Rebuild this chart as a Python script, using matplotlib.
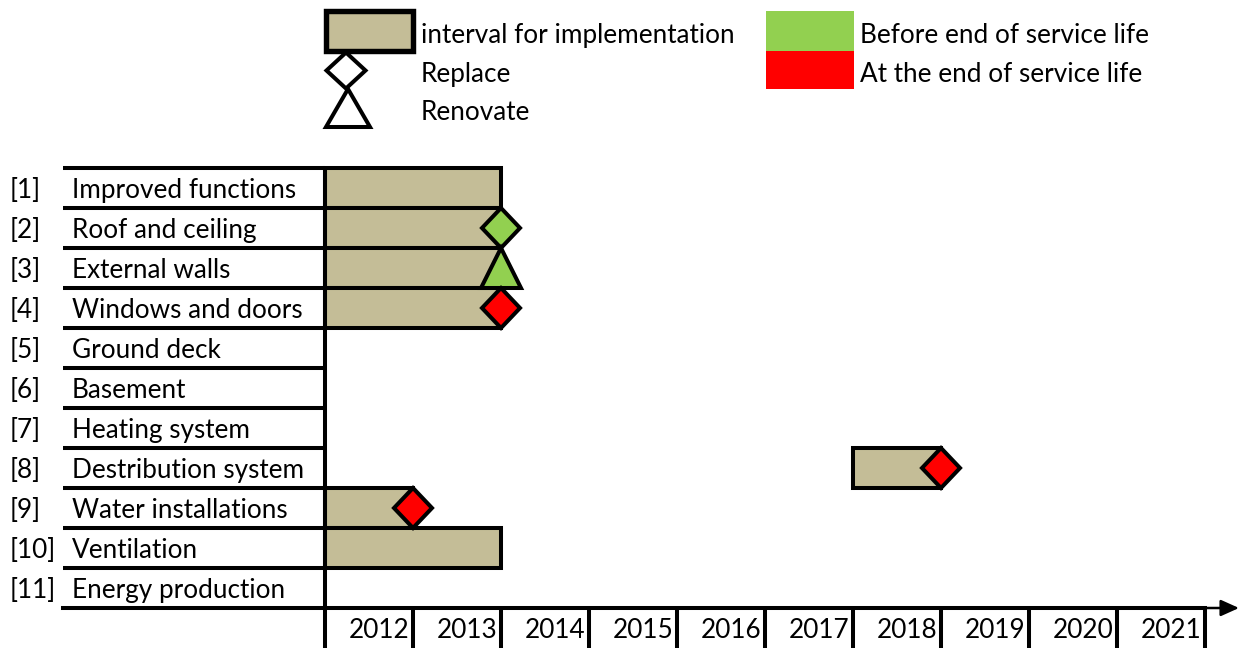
import matplotlib.pyplot as plt
from matplotlib.patches import Rectangle, Polygon

plt.rcParams['font.family'] = ['Lato', 'DejaVu Sans']

# building parts and their planned measures
items = ["Improved functions", "Roof and ceiling", "External walls",
         "Windows and doors", "Ground deck", "Basement", "Heating system",
         "Destribution system", "Water installations", "Ventilation",
         "Energy production"]
starts = [2012, 2012, 2012, 2012, None, None, None, 2018, 2012, 2012, None]
ends = [2014, 2014, 2014, 2014, None, None, None, 2019, 2013, 2014, None]
actions = [None, "replace", "renovate", "replace", None, None, None,
           "replace", "replace", None, None]
timing = [None, "before", "before", "end", None, None, None,
          "end", "end", None, None]
years = list(range(2012, 2022))

TAN = "#C4BD97"
GREEN = "#92D050"
RED = "#FF0000"
LW = 2.9
FS = 18.8

# 88 px per year, 40 px per row, first row top at 168 px
PX_X = 1 / 88
PX_Y = 1 / 40
X0 = years[0]


def px_x(p):
    return X0 + (p - 325) * PX_X


def px_y(p):
    return (p - 168) * PX_Y


def diamond(xc, yc, hw, hh, fc):
    return Polygon([(xc - hw, yc), (xc, yc - hh), (xc + hw, yc), (xc, yc + hh)],
                   closed=True, fc=fc, ec="black", lw=LW, joinstyle="miter", zorder=5)


def triangle(xc, ytop, ybot, hw, fc):
    return Polygon([(xc, ytop), (xc + hw, ybot), (xc - hw, ybot)],
                   closed=True, fc=fc, ec="black", lw=LW, joinstyle="miter", zorder=5)


fig = plt.figure(figsize=(12.41, 6.48), dpi=100)
ax = fig.add_axes([0, 0, 1, 1])
ax.set_xlim(px_x(0), px_x(1241))
ax.set_ylim(px_y(648), px_y(0))
ax.axis("off")

n = len(items)
x_left = px_x(63)
x_end = years[-1] + 1
dy = 2.5 * PX_Y  # text sits slightly low in the row

# row lines in label area
for i in range(n):
    ax.plot([x_left, X0], [i, i], color="black", lw=LW, solid_capstyle="butt", zorder=3)
# time axis line
ax.plot([x_left, x_end], [n, n], color="black", lw=LW, solid_capstyle="projecting", zorder=3)
# vertical line at start
ax.plot([X0, X0], [0, px_y(648)], color="black", lw=LW, solid_capstyle="butt", zorder=6)
# year ticks
for y in years[1:] + [x_end]:
    ax.plot([y, y], [n, px_y(648)], color="black", lw=LW, solid_capstyle="butt", zorder=3)
ax.annotate("", xy=(px_x(1239), n), xytext=(x_end + 2 * PX_X, n),
            arrowprops=dict(arrowstyle="-|>,head_length=1.0,head_width=0.45", lw=1.8,
                            color="black", mutation_scale=11, shrinkA=0, shrinkB=0))

for y in years:
    ax.text(y + 1 - 4 * PX_X, px_y(631), str(y), ha="right", va="center", fontsize=FS)

# labels
for i, name in enumerate(items):
    ax.text(px_x(10), i + 0.5 + dy, f"[{i + 1}]", ha="left", va="center", fontsize=FS)
    ax.text(px_x(72), i + 0.5 + dy, name, ha="left", va="center", fontsize=FS)

# bars and markers
for i in range(n):
    if starts[i] is None:
        continue
    ax.add_patch(Rectangle((starts[i], i), ends[i] - starts[i], 1, fc=TAN, ec="black",
                           lw=LW, joinstyle="miter", zorder=4))
    fc = GREEN if timing[i] == "before" else RED
    if actions[i] == "replace":
        ax.add_patch(diamond(ends[i], i + 0.5, 19 * PX_X, 0.5, fc))
    elif actions[i] == "renovate":
        ax.add_patch(triangle(ends[i], i, i + 1, 20 * PX_X, fc))

# legend
ax.add_patch(Rectangle((px_x(326), px_y(11)), 87 * PX_X, 40 * PX_Y, fc=TAN, ec="black",
                       lw=LW + 1, joinstyle="miter", zorder=4))
ax.add_patch(diamond(px_x(346), px_y(70.5), 19.5 * PX_X, 18 * PX_Y, "white"))
ax.add_patch(triangle(px_x(348), px_y(89), px_y(127), 22 * PX_X, "white"))
ax.text(px_x(421), px_y(33) + dy, "interval for implementation", va="center", fontsize=FS)
ax.text(px_x(421), px_y(72) + dy, "Replace", va="center", fontsize=FS)
ax.text(px_x(421), px_y(110) + dy, "Renovate", va="center", fontsize=FS)
ax.add_patch(Rectangle((px_x(766), px_y(11)), 88 * PX_X, 40 * PX_Y, fc=GREEN, lw=0))
ax.add_patch(Rectangle((px_x(766), px_y(51)), 88 * PX_X, 38 * PX_Y, fc=RED, lw=0))
ax.text(px_x(860), px_y(33) + dy, "Before end of service life", va="center", fontsize=FS)
ax.text(px_x(860), px_y(72) + dy, "At the end of service life", va="center", fontsize=FS)

fig.savefig("out.png", dpi=100)
